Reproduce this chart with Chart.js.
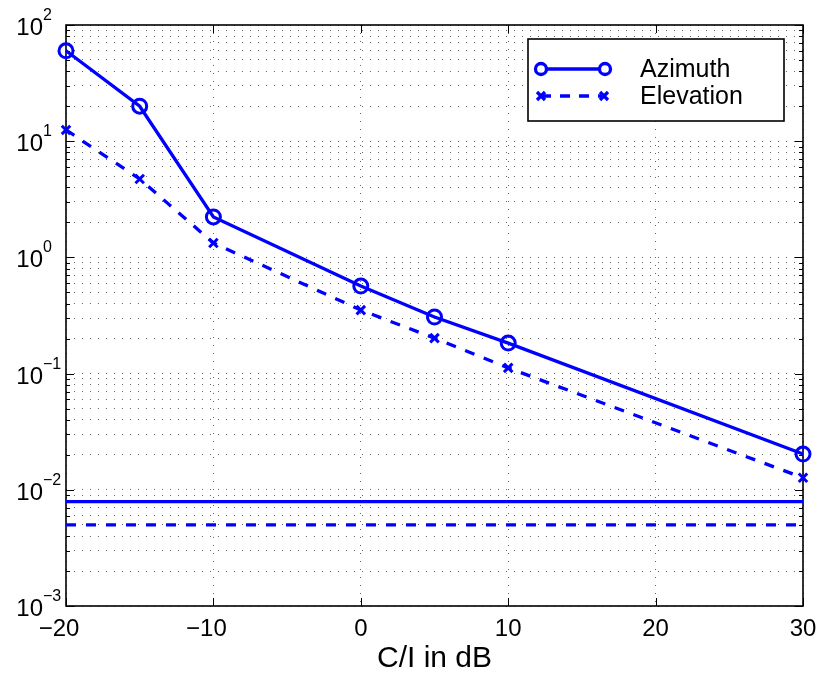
<!DOCTYPE html>
<html>
<head>
<meta charset="utf-8">
<script src="https://cdn.jsdelivr.net/npm/chart.js@4"></script>
<style>
  html, body { margin: 0; padding: 0; background: #fff; }
  #wrap { width: 820px; height: 677px; }
</style>
</head>
<body>
<div id="wrap"><canvas id="myChart" width="820" height="677"></canvas></div>
<script>
// C/I values in dB
const ciValues = [-20, -15, -10, 0, 5, 10, 30];
const azimuthErr = [60, 20, 2.23, 0.567, 0.307, 0.183, 0.0203];
const elevationErr = [12.5, 4.73, 1.33, 0.352, 0.202, 0.112, 0.0127];
// horizontal reference levels
const lineRange = [-20, 30];
const azimuthFloor = 0.0079;
const elevationFloor = 0.005;
// axis ticks
const xTicks = [-20, -10, 0, 10, 20, 30];
const yDecades = [-3, -2, -1, 0, 1, 2];
const xLabel = 'C/I in dB';
const legendNames = ['Azimuth', 'Elevation'];

const blue = '#0000ff';

function toPoints(xs, ys) {
  return xs.map((x, i) => ({ x: x, y: ys[i] }));
}

const framePlugin = {
  id: 'frame',
  beforeDatasetsDraw(chart) {
    const { ctx, chartArea: a, scales } = chart;
    const xs = scales.x, ys = scales.y;
    ctx.save();
    ctx.strokeStyle = '#000';
    ctx.lineWidth = 1;
    // inner tick marks on y
    yDecades.forEach(d => {
      for (let m = 1; m <= 9; m++) {
        const v = m * Math.pow(10, d);
        if (v > 100 * 1.0001) continue;
        const py = Math.round(ys.getPixelForValue(v)) + 0.5;
        const len = m === 1 ? 8 : 4;
        ctx.beginPath();
        ctx.moveTo(a.left, py); ctx.lineTo(a.left + len, py);
        ctx.moveTo(a.right, py); ctx.lineTo(a.right - len, py);
        ctx.stroke();
      }
    });
    xTicks.forEach(t => {
      const px = Math.round(xs.getPixelForValue(t)) + 0.5;
      ctx.beginPath();
      ctx.moveTo(px, a.bottom); ctx.lineTo(px, a.bottom - 8);
      ctx.moveTo(px, a.top); ctx.lineTo(px, a.top + 8);
      ctx.stroke();
    });
    ctx.lineWidth = 1.6;
    ctx.strokeRect(a.left, a.top, a.right - a.left, a.bottom - a.top);
    ctx.restore();
  },
  afterDraw(chart) {
    const { ctx, chartArea: a, scales } = chart;
    const xs = scales.x, ys = scales.y;
    ctx.save();
    ctx.fillStyle = '#000';
    // y labels 10^k
    yDecades.forEach(d => {
      const py = ys.getPixelForValue(Math.pow(10, d));
      ctx.font = '24px "Liberation Sans", Arial, sans-serif';
      ctx.textAlign = 'right';
      ctx.textBaseline = 'alphabetic';
      ctx.fillText('10', 43, py + 10);
      ctx.font = '16px "Liberation Sans", Arial, sans-serif';
      ctx.textAlign = 'left';
      ctx.fillText(d < 0 ? '\u2212' + (-d) : String(d), 43, py - 5);
    });
    // x labels
    ctx.font = '24px "Liberation Sans", Arial, sans-serif';
    ctx.textAlign = 'center';
    ctx.textBaseline = 'alphabetic';
    const minusW = ctx.measureText('\u2212').width;
    xTicks.forEach(t => {
      const px = xs.getPixelForValue(t);
      const s = t < 0 ? '\u2212' + (-t) : String(t);
      ctx.fillText(s, t < 0 ? px - minusW / 2 : px, 636);
    });
    ctx.font = '30px "Liberation Sans", Arial, sans-serif';
    ctx.fillText(xLabel, (a.left + a.right) / 2, 667);

    // legend
    const bx = 528, by = 39, bw = 256, bh = 82;
    ctx.fillStyle = '#fff';
    ctx.fillRect(bx, by, bw, bh);
    ctx.strokeStyle = '#000';
    ctx.lineWidth = 1.6;
    ctx.strokeRect(bx, by, bw, bh);
    ctx.strokeStyle = blue;
    ctx.lineWidth = 3.3;
    // azimuth sample
    ctx.beginPath(); ctx.moveTo(541, 69); ctx.lineTo(605, 69); ctx.stroke();
    [541, 605].forEach(cx => {
      ctx.beginPath(); ctx.arc(cx, 69, 5.5, 0, Math.PI * 2);
      ctx.fillStyle = '#fff'; ctx.fill(); ctx.stroke();
    });
    // elevation sample
    ctx.setLineDash([10, 9]);
    ctx.beginPath(); ctx.moveTo(541, 96); ctx.lineTo(604, 96); ctx.stroke();
    ctx.setLineDash([]);
    [541, 604].forEach(cx => {
      ctx.beginPath();
      ctx.moveTo(cx - 4, 92); ctx.lineTo(cx + 4, 100);
      ctx.moveTo(cx + 4, 92); ctx.lineTo(cx - 4, 100);
      ctx.stroke();
    });
    ctx.fillStyle = '#000';
    ctx.font = '25px "Liberation Sans", Arial, sans-serif';
    ctx.textAlign = 'left';
    ctx.fillText(legendNames[0], 640, 77);
    ctx.fillText(legendNames[1], 640, 104);
    ctx.restore();
  }
};

const ctx = document.getElementById('myChart').getContext('2d');
const myChart = new Chart(ctx, {
  type: 'scatter',
  data: {
    datasets: [
      {
        label: legendNames[0],
        data: toPoints(ciValues, azimuthErr),
        showLine: true,
        borderColor: blue,
        backgroundColor: 'rgba(0,0,0,0)',
        borderWidth: 3.3,
        pointStyle: 'circle',
        pointRadius: 7,
        pointBorderWidth: 3,
        clip: false,
      },
      {
        label: legendNames[1],
        data: toPoints(ciValues, elevationErr),
        showLine: true,
        borderColor: blue,
        backgroundColor: 'rgba(0,0,0,0)',
        borderWidth: 3.3,
        borderDash: [10, 10],
        pointStyle: 'crossRot',
        pointRadius: 6,
        pointBorderWidth: 3,
        clip: false,
      },
      {
        label: 'Azimuth floor',
        data: toPoints(lineRange, [azimuthFloor, azimuthFloor]),
        showLine: true,
        borderColor: blue,
        borderWidth: 3.3,
        pointRadius: 0,
      },
      {
        label: 'Elevation floor',
        data: toPoints(lineRange, [elevationFloor, elevationFloor]),
        showLine: true,
        borderColor: blue,
        borderWidth: 3.3,
        borderDash: [10, 10],
        pointRadius: 0,
      },
    ],
  },
  options: {
    responsive: false,
    animation: false,
    layout: { padding: { left: 66, top: 25, right: 17, bottom: 71 } },
    plugins: { legend: { display: false }, tooltip: { enabled: false } },
    scales: {
      x: {
        type: 'linear',
        min: -20,
        max: 30,
        ticks: { display: false, stepSize: 10 },
        grid: { color: 'rgba(0,0,0,0.6)', lineWidth: 1, drawTicks: false },
        border: { display: false, dash: [1, 7] },
        afterFit(scale) { scale.height = 0; },
      },
      y: {
        type: 'logarithmic',
        min: 0.001,
        max: 100,
        ticks: { display: false },
        grid: { color: 'rgba(0,0,0,0.6)', lineWidth: 1, drawTicks: false },
        border: { display: false, dash: [1, 7] },
        afterBuildTicks(scale) {
          const t = [];
          yDecades.forEach(d => {
            for (let m = 1; m <= 9; m++) {
              const v = m * Math.pow(10, d);
              if (v <= 100 * 1.0001) t.push({ value: v });
            }
          });
          scale.ticks = t;
        },
        afterFit(scale) { scale.width = 0; },
      },
    },
  },
  plugins: [framePlugin],
});
</script>
</body>
</html>
